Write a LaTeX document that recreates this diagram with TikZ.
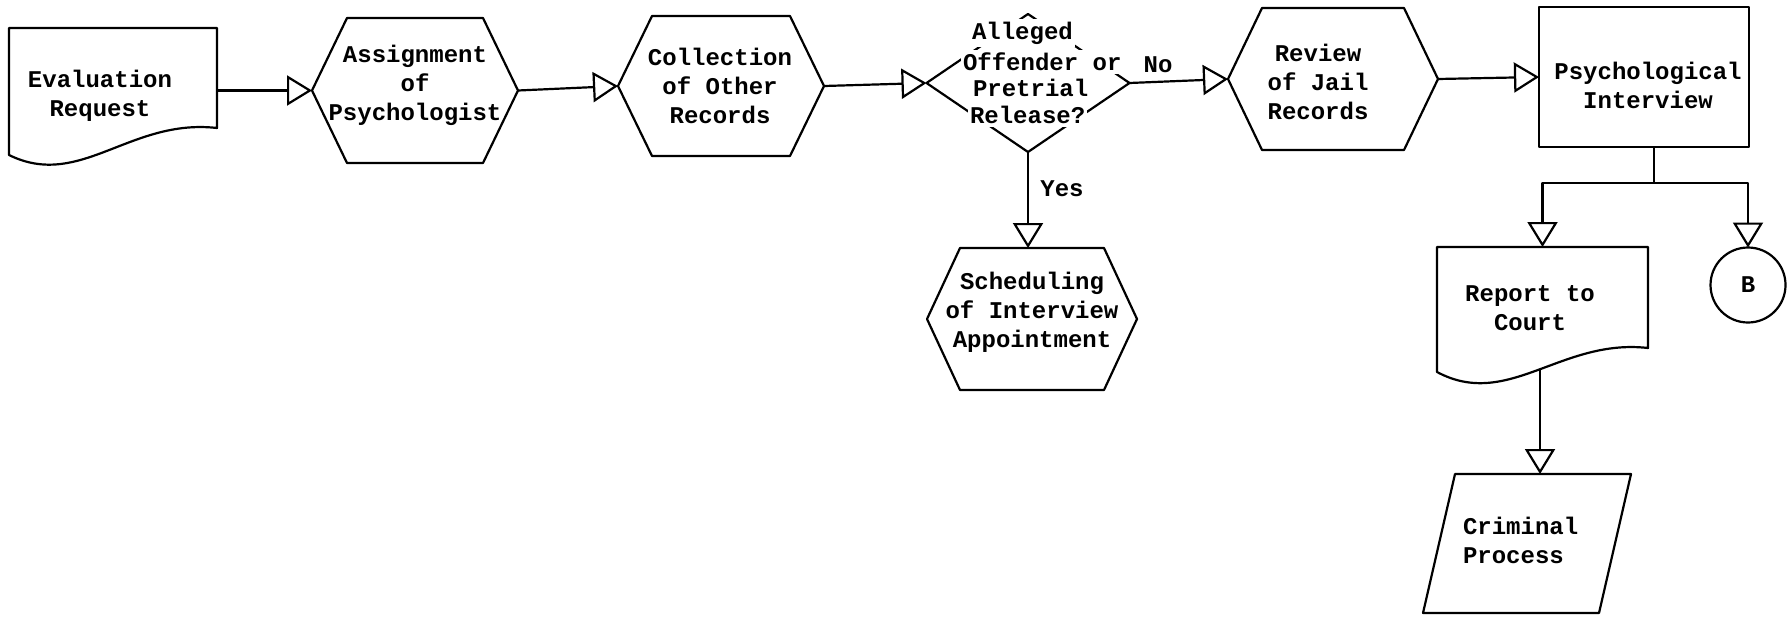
\documentclass[tikz,border=0pt]{standalone}
\usepackage{fontspec}
\setmonofont{Liberation Mono}
\usetikzlibrary{arrows.meta,calc}
\begin{document}
\begin{tikzpicture}[x=1pt,y=-1pt,
  every node/.style={font=\ttfamily\bfseries\fontsize{24}{29}\selectfont, inner sep=0pt, outer sep=0pt},
  frame/.style={draw=none, inner sep=0pt, outer sep=0pt},
  ln/.style={line width=2.2pt, line join=round},
  arr/.style={ln, -{Triangle[open, length=25pt, width=30pt]}},
  txt/.style={align=center},
  dtxt/.style={fill=white, inner xsep=2pt, inner ysep=3pt, anchor=west}]
\useasboundingbox (0,0) rectangle (1787,616);

% frames
\node[frame, minimum width=208pt, minimum height=100pt] (req) at (113,78) {};
\node[frame, minimum width=206pt, minimum height=145pt] (h1) at (415,90.5) {};
\node[frame, minimum width=206pt, minimum height=140pt] (h2) at (721,86) {};
\node[frame, minimum width=203pt, minimum height=138pt] (d) at (1028,83) {};
\node[frame, minimum width=210pt, minimum height=142pt] (h3) at (1333,79) {};
\node[frame, ln, draw, minimum width=210pt, minimum height=140pt] (psy) at (1644,77) {};
\node[frame, minimum width=210pt, minimum height=142pt] (h4) at (1032,319) {};
\node[frame, minimum width=211pt, minimum height=101pt] (rep) at (1542.5,297.5) {};
\node[circle, draw, ln, minimum size=75pt] (B) at (1748,285) {B};
\node[frame, minimum width=176pt, minimum height=139pt] (crim) at (1527,543.5) {};

% outlines
\draw[ln] (req.north west) -- (req.north east) -- (req.south east)
  .. controls ($(req.south east)+(-87,-10)$) and ($(req.south west)+(71,62)$) .. ($(req.south west)+(0,27)$) -- cycle;
\draw[ln] (rep.north west) -- (rep.north east) -- (rep.south east)
  .. controls ($(rep.south east)+(-87,-10)$) and ($(rep.south west)+(71,62)$) .. ($(rep.south west)+(0,24)$) -- cycle;
\foreach \n/\i in {h1/35,h2/34,h3/34,h4/33}
  \draw[ln] (\n.west) -- ($(\n.north west)+(\i,0)$) -- ($(\n.north east)+(-\i,0)$) -- (\n.east)
    -- ($(\n.south east)+(-\i,0)$) -- ($(\n.south west)+(\i,0)$) -- cycle;
\draw[ln] ($(crim.north west)+(16,0)$) -- ($(crim.north east)+(16,0)$) -- ($(crim.south east)+(-16,0)$) -- ($(crim.south west)+(-16,0)$) -- cycle;
\draw[ln] (d.west) -- (d.north) -- (d.east) -- (d.south) -- cycle;

% texts
\node[txt] (reqt) at (100,96) {Evaluation\\Request};
\node[txt] (h1t) at (415,85) {Assignment\\of\\Psychologist};
\node[txt] (h2t) at (720,86) {Collection\\of Other\\Records};
\node[dtxt] (d1) at (970,33) {Alleged};
\node[dtxt] (d2) at (961,62) {Offender or};
\node[dtxt] (d3) at (971,88) {Pretrial};
\node[dtxt] (d4) at (968,115) {Release?};
\node[txt] (h3t) at (1318,82) {Review\\of Jail\\Records};
\node[txt] (psyt) at (1648,85) {Psychological\\Interview};
\node[txt] (h4t) at (1032,312) {Scheduling\\of Interview\\Appointment};
\node[txt] (rept) at (1530,308) {Report to\\Court};
\node[align=left, anchor=west] (crimt) at (1463,540) {Criminal\\Process};
\node (no) at (1158,65) {No};
\node (yes) at (1062,189) {Yes};

% connectors
\draw[arr] (req.east |- h1.west) -- (h1.west);
\draw[arr] (h1.east) -- (h2.west);
\draw[arr] (h2.east) -- (d.west);
\draw[arr] (d.east) -- (h3.west);
\draw[arr] (h3.east) -- (psy.west);
\draw[arr] (d.south) -- (d.south |- h4.north);
\draw[ln] ([xshift=10pt]psy.south) -- ++(0,36) coordinate (j);
\draw[arr] (j) -| (rep.north);
\draw[arr] (j) -| (B.north);
\coordinate (repb) at (1540,370);
\draw[arr] (repb) -- (repb |- crim.north);
\end{tikzpicture}
\end{document}
